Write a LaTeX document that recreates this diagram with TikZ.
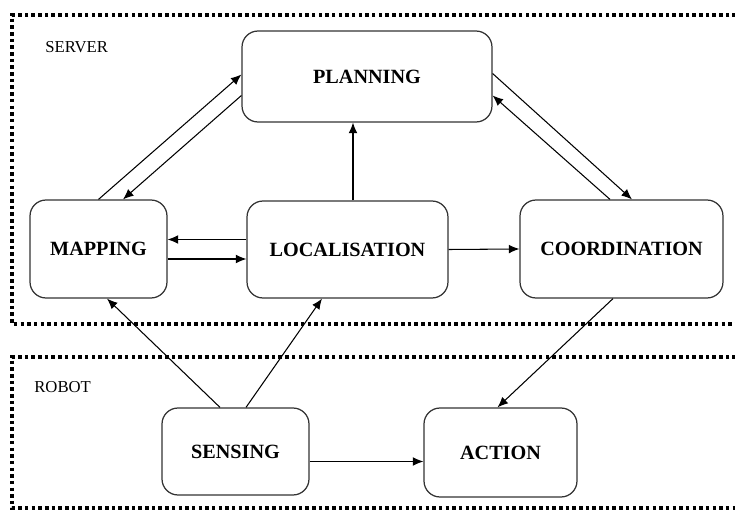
\documentclass[tikz,border=0pt]{standalone}
\usepackage{fontspec}
\setmainfont{Liberation Serif}
\usetikzlibrary{calc,arrows.meta}

\begin{document}
\begin{tikzpicture}[x=0.02cm,y=-0.02cm,>={Latex[length=6pt,width=5pt]},
    block/.style={draw=black!80, line width=0.7pt, rounded corners=0.32cm, inner sep=0pt,
        font=\fontsize{11.5}{13}\selectfont\bfseries},
    zone/.style={line width=2pt, dash pattern=on 2pt off 1.8pt},
    link/.style={->, line width=0.6pt},
    tag/.style={anchor=west, inner sep=0pt, font=\fontsize{9.5}{10}\selectfont}]
        \useasboundingbox (0,0) rectangle (735,510);

        % the two areas
        \draw[zone] (736,15) -- (12,15) -- (12,324) -- (736,324);
        \draw[zone] (736,357) -- (12,357) -- (12,508) -- (736,508);
        \node (server) [tag] at (45,47) {SERVER};
        \node (robot) [tag] at (34,387) {ROBOT};

        \node (plan) [block, minimum width=5cm, minimum height=1.82cm] at (367,76.5) {PLANNING};
        \node (map) [block, minimum width=2.74cm, minimum height=1.96cm] at (98.5,249) {MAPPING};
        \node (loc) [block, minimum width=4.02cm, minimum height=1.94cm] at (347.5,249.5) {LOCALISATION};
        \node (coord) [block, minimum width=4.06cm, minimum height=1.96cm] at (621.5,249) {COORDINATION};
        \node (sens) [block, minimum width=2.94cm, minimum height=1.74cm] at (235.5,451.5) {SENSING};
        \node (act) [block, minimum width=3.06cm, minimum height=1.78cm] at (500.5,452.5) {ACTION};

        \draw[link] (map.north) -- ([yshift=0.04cm]plan.west);
        \draw[link] ([yshift=-0.38cm]plan.west) -- ([xshift=0.49cm]map.north);
        \draw[link] ([yshift=0.06cm]plan.east) -- ([xshift=0.21cm]coord.north);
        \draw[link] ([xshift=-0.23cm]coord.north) -- ([yshift=-0.38cm]plan.east);
        \draw[link] ([xshift=0.11cm]loc.north) -- ([xshift=0.11cm]loc.north |- plan.south);
        \draw[link] ([yshift=0.2cm]loc.west) -- ([yshift=0.2cm]loc.west -| map.east);
        \draw[link] ([yshift=-0.2cm]map.east) -- ([yshift=-0.2cm]map.east -| loc.west);
        \draw[link] (loc.east) -- (coord.west);
        \draw[link] ([xshift=-0.17cm]coord.south) -- ([xshift=-0.06cm]act.north);
        \draw[link] ([xshift=-0.31cm]sens.north) -- ([xshift=0.17cm]map.south);
        \draw[link] ([xshift=0.21cm]sens.north) -- ([xshift=-0.51cm]loc.south);
        \draw[link] ([yshift=-0.2cm]sens.east) -- ([yshift=-0.2cm]sens.east -| act.west);
\end{tikzpicture}
\end{document}
